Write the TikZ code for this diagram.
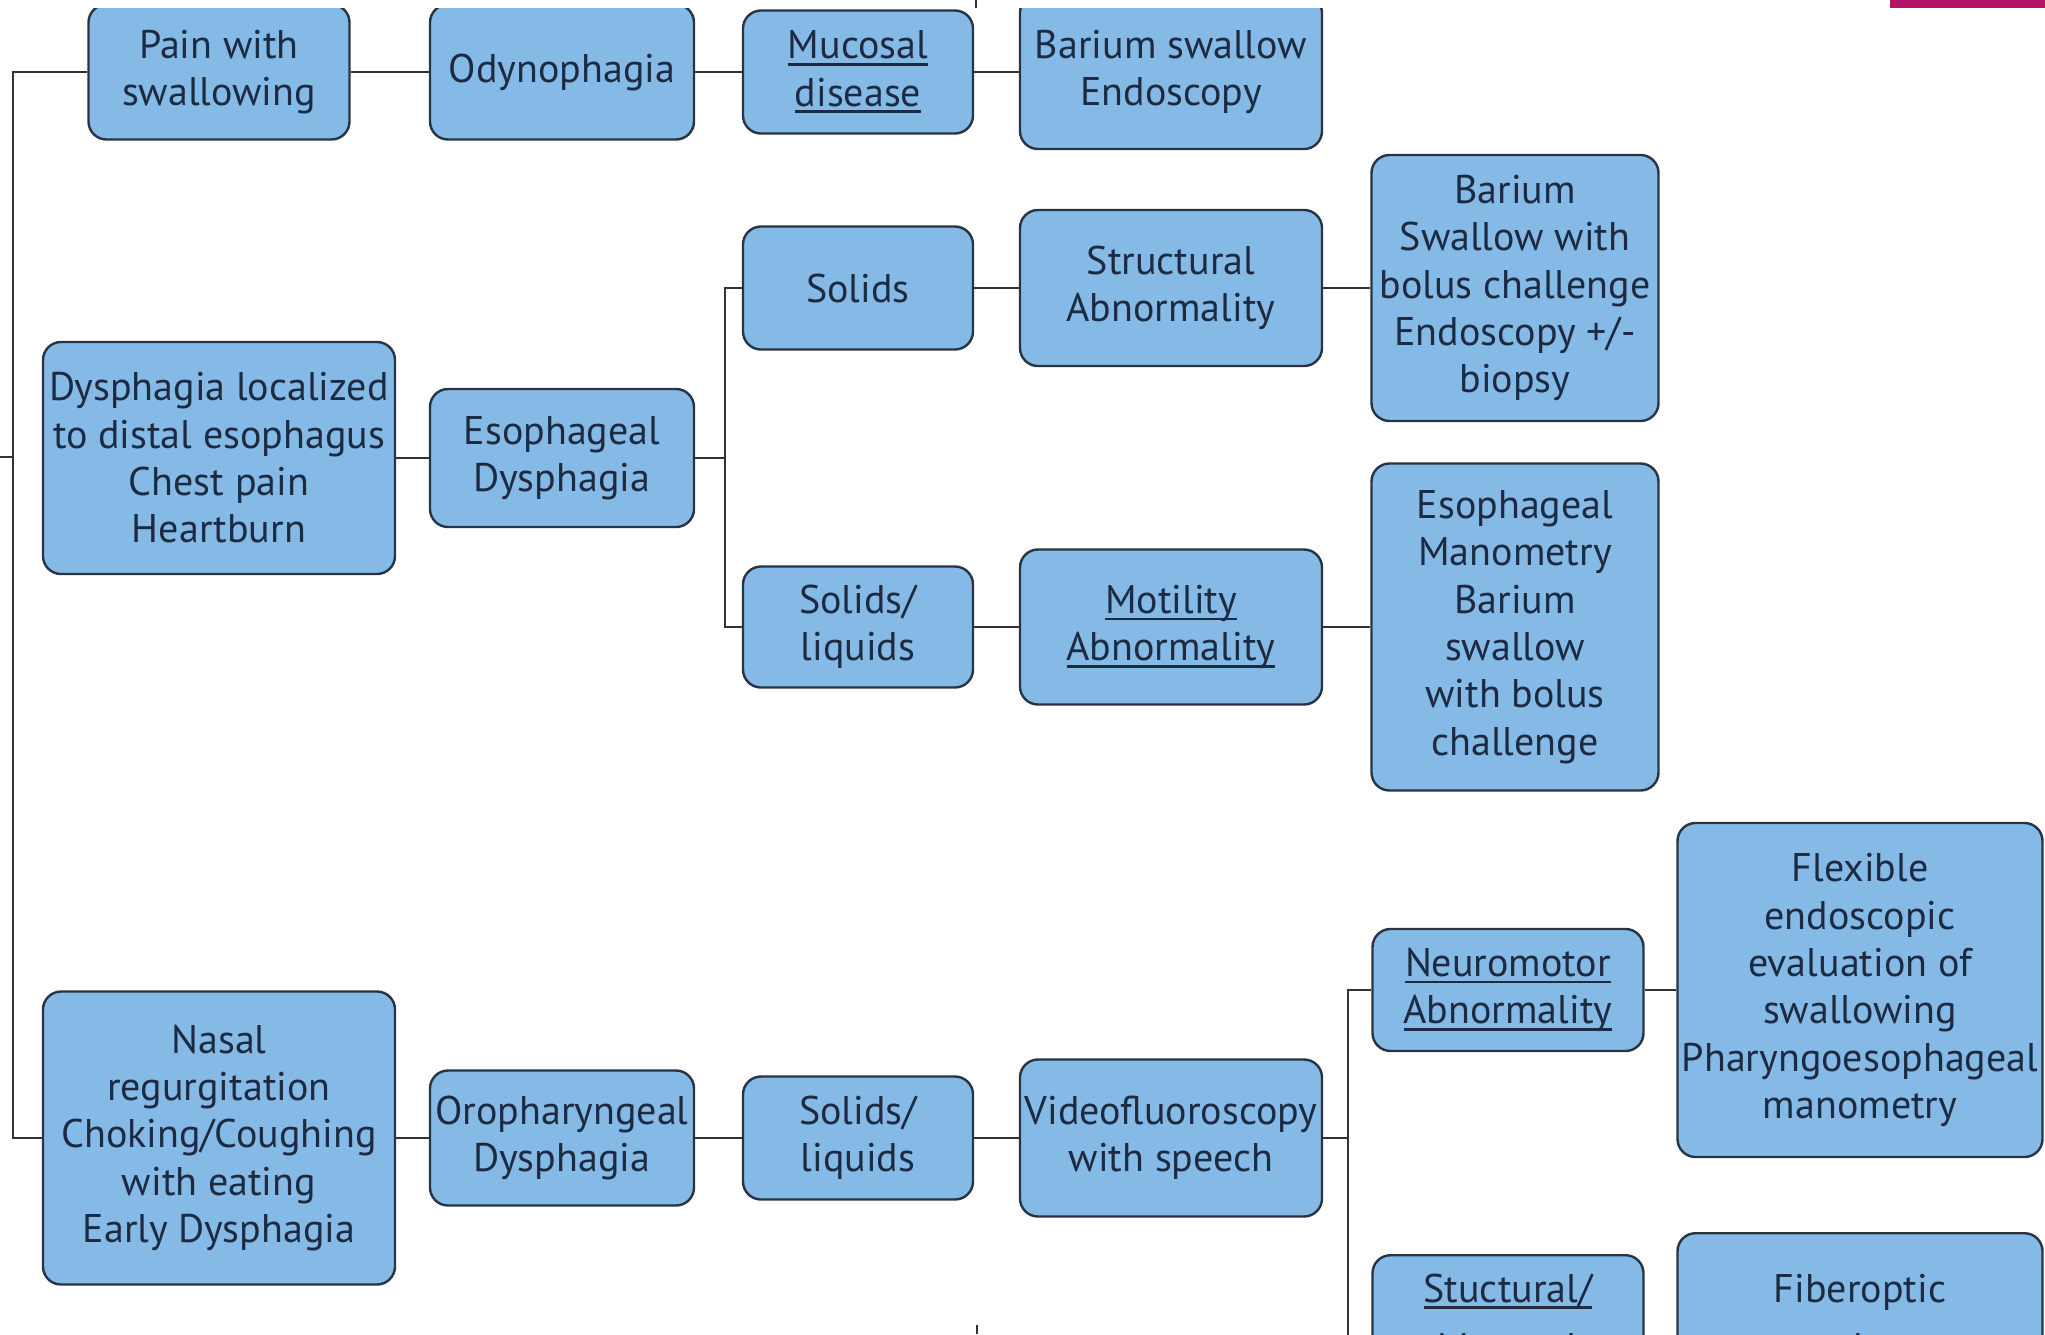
\documentclass[tikz,border=0pt]{standalone}
\usepackage{fontspec}
\setmainfont{PT Sans}
\usepackage{tikz}

\definecolor{boxfill}{RGB}{134,186,230}
\definecolor{boxline}{RGB}{40,52,68}
\definecolor{boxtext}{RGB}{28,42,66}
\definecolor{linkgray}{RGB}{50,50,50}
\definecolor{tabmagenta}{RGB}{181,20,104}

\newcommand\boxfont{\fontsize{40}{47.3}\selectfont}
% underline each line on its own
\newcommand\ulword[1]{\setbox0=\hbox{#1}\rlap{\rule[-0.17em]{\wd0}{0.065em}}\box0}

\tikzset{
	box/.style={draw=boxline, fill=boxfill, line width=2.4pt, rounded corners=18pt,
		align=center, text=boxtext, inner sep=0pt, font=\boxfont},
	wh/.style 2 args={minimum width=#1pt, minimum height=#2pt},
	link/.style={draw=linkgray, line width=2pt}
}

\begin{document}
\begin{tikzpicture}[x=1pt, y=-1pt]
	\useasboundingbox (0,0) rectangle (2045,1334);
	\clip (0,0) rectangle (2045,1334);

	% pain with swallowing
	\node[box, wh={261}{135}] (painsw) at (219,72) {Pain with\\swallowing};
	\node[box, wh={264}{135}] (odyno) at (562,72) {Odynophagia};
	\node[box, wh={230}{123}] (mucosal) at (858,72) {\ulword{Mucosal}\\\ulword{disease}};
	\node[box, wh={302}{154}] (bariumsw) at (1171,72) {Barium swallow\\Endoscopy};

	% esophageal dysphagia
	\node[box, wh={352}{232}] (dysloc) at (219,458) {Dysphagia localized\\to distal esophagus\\Chest pain\\Heartburn};
	\node[box, wh={264}{138}] (esodys) at (562,458) {Esophageal\\Dysphagia};
	\node[box, wh={230}{123}] (solids) at (858,288) {Solids};
	\node[box, wh={302}{156}] (structab) at (1171,288) {Structural\\Abnormality};
	\node[box, wh={287}{266}] (bariumbol) at (1515,288) {Barium\\Swallow with\\bolus challenge\\Endoscopy +/-\\biopsy};
	\node[box, wh={230}{121}] (solliqA) at (858,627) {Solids/\\liquids};
	\node[box, wh={302}{155}] (motility) at (1171,627) {\ulword{Motility}\\\ulword{Abnormality}};
	\node[box, wh={287}{327}] (esomano) at (1515,627) {Esophageal\\Manometry\\Barium\\swallow\\with bolus\\challenge};

	% oropharyngeal dysphagia
	\node[box, wh={352}{293}] (nasal) at (219,1138) {Nasal\\regurgitation\\Choking/Coughing\\with eating\\Early Dysphagia};
	\node[box, wh={264}{135}] (orodys) at (562,1138) {Oropharyngeal\\Dysphagia};
	\node[box, wh={230}{123}] (solliqB) at (858,1138) {Solids/\\liquids};
	\node[box, wh={302}{157}] (videofl) at (1171,1138) {Videofluoroscopy\\with speech};
	\node[box, wh={271}{122}] (neuromot) at (1508,990) {\ulword{Neuromotor}\\\ulword{Abnormality}};
	\node[box, wh={365}{334}] (flexend) at (1860,990) {Flexible\\endoscopic\\evaluation of\\swallowing\\Pharyngoesophageal\\manometry};
	\node[box, wh={271}{172}, anchor=north] (stucmuc) at (1508,1254) {\ulword{Stuctural/}\\[12pt]\ulword{Mucosal}\\\mbox{}};
	\node[box, wh={365}{216}, anchor=north] (fiberopt) at (1860,1232) {Fiberoptic\\[12pt]nasendoscopy\\\mbox{}};

	% trunk and forks
	\coordinate (trunkB) at (13,1138);
	\coordinate (stubL) at (0,457);
	\coordinate (fkA) at (725,458);
	\coordinate (fkB) at (1348,1138);

	\draw[link] (painsw) -| (trunkB) -- (nasal);
	\draw[link] (stubL) -- (stubL -| trunkB);
	\draw[link] (painsw) -- (odyno);
	\draw[link] (odyno) -- (mucosal);
	\draw[link] (mucosal) -- (bariumsw);

	\draw[link] (dysloc) -- (esodys);
	\draw[link] (esodys) -- (fkA) |- (solids);
	\draw[link] (fkA) |- (solliqA);
	\draw[link] (solids) -- (structab);
	\draw[link] (structab) -- (bariumbol);
	\draw[link] (solliqA) -- (motility);
	\draw[link] (motility) -- (esomano);

	\draw[link] (nasal) -- (orodys);
	\draw[link] (orodys) -- (solliqB);
	\draw[link] (solliqB) -- (videofl);
	\draw[link] (videofl) -- (fkB) |- (neuromot);
	\draw[link] (fkB) |- (stucmuc);
	\draw[link] (neuromot) -- (flexend);
	\draw[link] (stucmuc) -- (fiberopt);

	% page edge
	\fill[white] (0,0) rectangle (2045,8);
	\fill[tabmagenta] (1890,0) rectangle (2045,8);
	\draw[linkgray, line width=1.2pt] (976,0) -- (976,8);
	\draw[linkgray, line width=1.2pt] (977,1325) -- (977,1334);
\end{tikzpicture}
\end{document}
